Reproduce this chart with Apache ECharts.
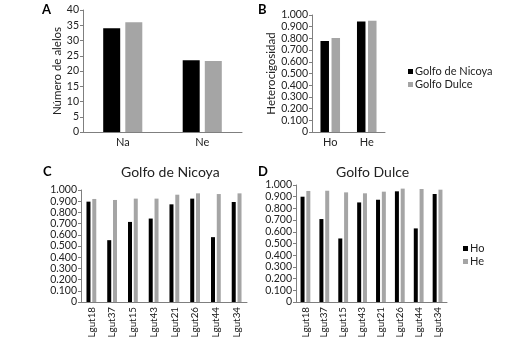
<!DOCTYPE html>
<html>
<head>
<meta charset="utf-8">
<script src="https://cdn.jsdelivr.net/npm/echarts@6/dist/echarts.min.js"></script>
<style>
html, body { margin: 0; padding: 0; background: #fff; }
#main { width: 528px; height: 343px; }
</style>
</head>
<body>
<div id="main"></div>
<script>
// datos
var catA = ['Na', 'Ne'];
var nicoyaA = [34.0, 23.5];
var dulceA = [36.0, 23.3];

var catB = ['Ho', 'He'];
var nicoyaB = [0.777, 0.945];
var dulceB = [0.803, 0.950];

var loci = ['Lgut18', 'Lgut37', 'Lgut15', 'Lgut43', 'Lgut21', 'Lgut26', 'Lgut44', 'Lgut34'];
var hoNicoya = [0.896, 0.552, 0.715, 0.745, 0.872, 0.923, 0.579, 0.893];
var heNicoya = [0.920, 0.911, 0.923, 0.923, 0.958, 0.970, 0.964, 0.970];
var hoDulce = [0.900, 0.709, 0.543, 0.851, 0.874, 0.946, 0.629, 0.923];
var heDulce = [0.949, 0.951, 0.937, 0.929, 0.943, 0.969, 0.966, 0.960];

var NEGRO = '#000000';
var GRIS = '#a5a5a5';
var FONT = 'Lato';

function ejeX(i, data, rot) {
    return {
        gridIndex: i,
        type: 'category',
        data: data,
        axisLine: { lineStyle: { color: '#7f7f7f', width: 1 } },
        axisTick: { show: false },
        axisLabel: {
            color: rot ? '#111' : '#222', fontFamily: FONT, fontSize: rot ? 9.8 : 11,
            rotate: rot ? 90 : 0, margin: 5
        }
    };
}

function ejeY(i, max, interval, fmt, name, gap) {
    return {
        gridIndex: i,
        type: 'value',
        min: 0, max: max, interval: interval,
        name: name,
        nameLocation: 'middle',
        nameGap: gap,
        nameTextStyle: { color: '#222', fontFamily: FONT, fontSize: 11.5 },
        splitLine: { show: false },
        axisLine: { show: true, lineStyle: { color: '#7f7f7f', width: 1 } },
        axisTick: { show: true, length: 3, lineStyle: { color: '#7f7f7f' } },
        axisLabel: {
            color: '#222', fontFamily: FONT, fontSize: 10.5, margin: 4,
            formatter: fmt
        }
    };
}

function tres(v) { return v === 0 ? '0' : v.toFixed(3); }

var letra = { fontFamily: FONT, fontSize: 13, fontWeight: 'bold', color: '#000' };
var subtitulo = { fontFamily: FONT, fontSize: 14, fontWeight: 'normal', color: '#222' };

var myChart = echarts.init(document.getElementById('main'));
var option = {
    backgroundColor: '#fff',
    animation: false,
    title: [
        { text: 'A', left: 37, top: -2, textStyle: letra },
        { text: 'B', left: 253, top: -2, textStyle: letra },
        { text: 'C', left: 38, top: 160, textStyle: letra },
        { text: 'D', left: 253, top: 160, textStyle: letra },
        { text: 'Golfo de Nicoya', left: 116, top: 160, textStyle: subtitulo },
        { text: 'Golfo Dulce', left: 331, top: 160, textStyle: subtitulo }
    ],
    legend: [
        {
            data: ['Golfo de Nicoya', 'Golfo Dulce'],
            orient: 'vertical', left: 403, top: 61,
            icon: 'rect', itemWidth: 5, itemHeight: 5, itemGap: 2,
            textStyle: { fontFamily: FONT, fontSize: 11, color: '#222', padding: [0, 0, 0, -3] }
        },
        {
            data: ['Ho', 'He'],
            orient: 'vertical', left: 458, top: 238,
            icon: 'rect', itemWidth: 5, itemHeight: 5, itemGap: 2,
            textStyle: { fontFamily: FONT, fontSize: 11, color: '#222', padding: [0, 0, 0, -3] }
        }
    ],
    grid: [
        { left: 83, top: 10, width: 159, height: 122 },
        { left: 312, top: 15, width: 73, height: 117 },
        { left: 81, top: 190, width: 166, height: 112 },
        { left: 296, top: 185, width: 151, height: 117 }
    ],
    xAxis: [
        ejeX(0, catA, false),
        ejeX(1, catB, false),
        ejeX(2, loci, true),
        ejeX(3, loci, true)
    ],
    yAxis: [
        ejeY(0, 40, 5, null, 'Número de alelos', 19),
        ejeY(1, 1, 0.1, tres, 'Heterocigosidad', 28),
        ejeY(2, 1, 0.1, tres, '', 0),
        ejeY(3, 1, 0.1, tres, '', 0)
    ],
    series: [
        { name: 'Golfo de Nicoya', type: 'bar', xAxisIndex: 0, yAxisIndex: 0, data: nicoyaA, itemStyle: { color: NEGRO }, barWidth: 17, barGap: '30%' },
        { name: 'Golfo Dulce', type: 'bar', xAxisIndex: 0, yAxisIndex: 0, data: dulceA, itemStyle: { color: GRIS }, barWidth: 17, barGap: '30%' },
        { name: 'Golfo de Nicoya', type: 'bar', xAxisIndex: 1, yAxisIndex: 1, data: nicoyaB, itemStyle: { color: NEGRO }, barWidth: 8.5, barGap: '30%' },
        { name: 'Golfo Dulce', type: 'bar', xAxisIndex: 1, yAxisIndex: 1, data: dulceB, itemStyle: { color: GRIS }, barWidth: 8.5, barGap: '30%' },
        { name: 'Ho', type: 'bar', xAxisIndex: 2, yAxisIndex: 2, data: hoNicoya, itemStyle: { color: NEGRO }, barWidth: 4, barGap: '45%' },
        { name: 'He', type: 'bar', xAxisIndex: 2, yAxisIndex: 2, data: heNicoya, itemStyle: { color: GRIS }, barWidth: 4, barGap: '45%' },
        { name: 'Ho', type: 'bar', xAxisIndex: 3, yAxisIndex: 3, data: hoDulce, itemStyle: { color: NEGRO }, barWidth: 4, barGap: '45%' },
        { name: 'He', type: 'bar', xAxisIndex: 3, yAxisIndex: 3, data: heDulce, itemStyle: { color: GRIS }, barWidth: 4, barGap: '45%' }
    ]
};

myChart.setOption(option);
</script>
</body>
</html>
